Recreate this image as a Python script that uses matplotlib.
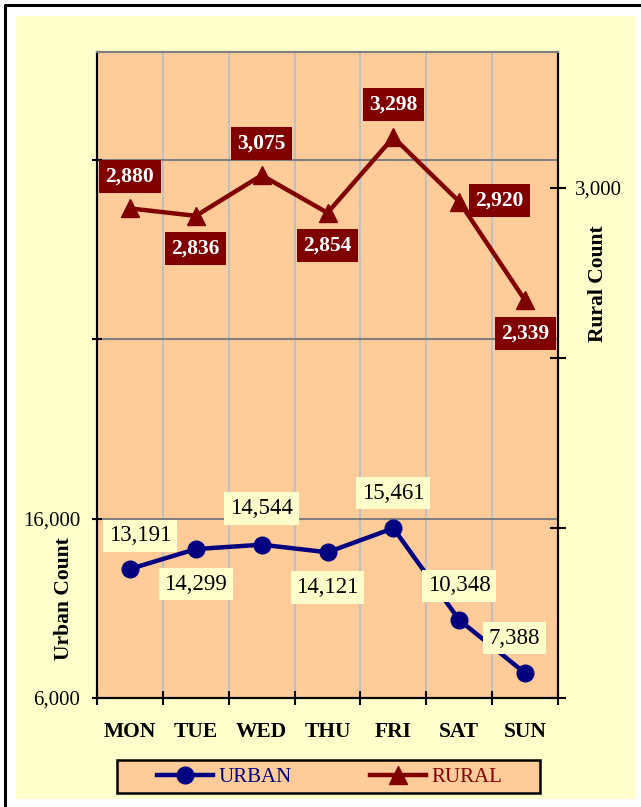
import numpy as np
import matplotlib
matplotlib.use('Agg')
import matplotlib.pyplot as plt
from matplotlib.patches import Rectangle
from matplotlib.lines import Line2D

plt.rcParams['font.family'] = 'Liberation Serif'

days = ['MON', 'TUE', 'WED', 'THU', 'FRI', 'SAT', 'SUN']
urban = [13191, 14299, 14544, 14121, 15461, 10348, 7388]
rural = [2880, 2836, 3075, 2854, 3298, 2920, 2339]

# where each data label sits relative to its point (pixels, +y is up)
urban_off = [(10, 33), (0, -35), (0, 36), (0, -35), (0, 35), (0, 34), (-11, 35)]
rural_off = [(0, 32), (0, -33), (0, 32), (0, -33), (0, 33), (40, 1), (0, -33)]

PEACH = '#FFCC99'
CREAM = '#FFFFCC'
NAVY = '#000080'
MAROON = '#800000'

W, H = 641, 807
def fx(px):
    return px / W
def fy(py):
    return 1 - py / H

fig = plt.figure(figsize=(W / 100, H / 100), dpi=100)
fig.patch.set_facecolor('white')

# cream chart area and the black frame
fig.patches.append(Rectangle((fx(16), fy(799)), fx(635) - fx(16), fy(16) - fy(799),
                             transform=fig.transFigure, fc=CREAM, ec='none', zorder=-10))
fig.add_artist(Line2D([fx(5), fx(5), 1], [0, fy(5), fy(5)], transform=fig.transFigure,
                      color='black', lw=2.2))

ax = fig.add_axes([fx(97), fy(698), (558 - 97) / W, (698 - 52) / H])
ax.set_facecolor(PEACH)
ax.set_axisbelow(True)
x = np.arange(len(days))

ax.plot(x, urban, color=NAVY, lw=3.2, marker='o', ms=12, zorder=3)
ax.set_xlim(-0.5, 6.5)
ax.set_ylim(6000, 42000)
ax.set_yticks([6000, 16000, 26000, 36000])
ax.set_yticklabels(['6,000', '16,000', '', ''])
ax.set_xticks(np.arange(-0.5, 7, 1))
ax.set_xticklabels([])
ax.set_xticks(x, minor=True)
ax.set_xticklabels(days, minor=True, fontweight='bold')
ax.grid(axis='y', color='#808080', lw=1.5)
ax.grid(axis='x', which='major', color='#C0C0C0', lw=1.5)
ax.tick_params(axis='y', direction='inout', length=7, width=1.5, pad=8.5, labelsize=15)
ax.tick_params(axis='x', which='major', direction='inout', length=10, width=1.5)
ax.tick_params(axis='x', which='minor', length=0, pad=17.5, labelsize=15.5)

ax2 = ax.twinx()
ax2.plot(x, rural, color=MAROON, lw=3.2, marker='^', ms=13, zorder=3)
ax2.set_ylim(0, 3800)
ax2.set_yticks([0, 1000, 2000, 3000])
ax2.set_yticklabels(['', '', '', '3,000'])
ax2.tick_params(axis='y', direction='inout', length=11, width=1.5, pad=6.5, labelsize=15)

for a in (ax, ax2):
    for s in a.spines.values():
        s.set_linewidth(1.5)
        s.set_color('black')
    a.spines['top'].set_color('#808080')

for i, (v, (dx, dy)) in enumerate(zip(urban, urban_off)):
    ax.annotate(f'{v:,}', (i, v), xytext=(dx, dy), textcoords='offset pixels',
                ha='center', va='center', fontsize=16.5, color='black', zorder=5,
                bbox=dict(boxstyle='square,pad=0.25', fc=CREAM, ec='none'))

for i, (v, (dx, dy)) in enumerate(zip(rural, rural_off)):
    ax2.annotate(f'{v:,}', (i, v), xytext=(dx, dy), textcoords='offset pixels',
                 ha='center', va='center', fontsize=15.5, fontweight='bold',
                 color='white', zorder=5,
                 bbox=dict(boxstyle='square,pad=0.3', fc=MAROON, ec='none'))

fig.text(fx(64), fy(599), 'Urban Count', rotation=90, ha='center', va='center',
         fontsize=15.5, fontweight='bold')
fig.text(fx(598), fy(284), 'Rural Count', rotation=90, ha='center', va='center',
         fontsize=15.5, fontweight='bold')

# legend box
fig.patches.append(Rectangle((fx(117), fy(793)), fx(540) - fx(117), fy(760) - fy(793),
                             transform=fig.transFigure, fc=PEACH, ec='black', lw=1.8,
                             zorder=1))
handles = [Line2D([], [], color=NAVY, lw=3.2, marker='o', ms=12),
           Line2D([], [], color=MAROON, lw=3.2, marker='^', ms=13)]
fig.legend(handles, ['URBAN', 'RURAL'], loc='center left',
           bbox_to_anchor=(fx(157), fy(777)), ncol=2, frameon=False, fontsize=15,
           handlelength=2.7, handletextpad=0.25, columnspacing=3.75,
           labelcolor='linecolor', borderpad=0, borderaxespad=0)

fig.savefig('out.png', dpi=100, facecolor=fig.get_facecolor())
